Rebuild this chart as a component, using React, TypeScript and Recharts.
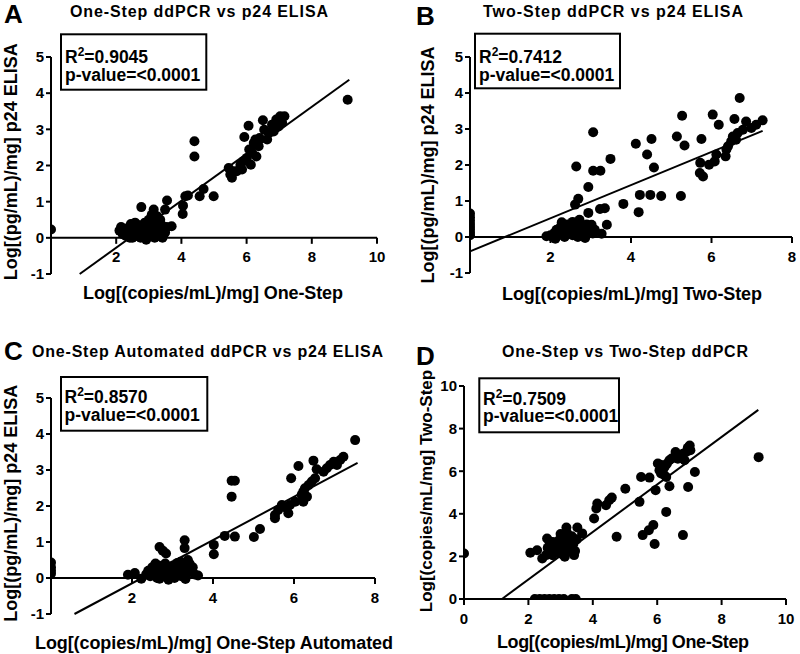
import React from 'react';
import { ScatterChart, Scatter, XAxis, YAxis, ReferenceLine } from 'recharts';

const FONT = '"Liberation Sans", Arial, Helvetica, sans-serif';

// ---------- DATA ----------
// A: One-Step ddPCR (x) vs p24 ELISA (y)
const oneStepVsP24: number[][] = [
  [0, 0.23],
  [2.1, 0.2], [2.2, 0.1], [2.25, 0.25], [2.3, 0.05], [2.35, 0.15], [2.4, 0.3], [2.42, 0.0], [2.5, 0.2], [2.55, 0.1],
  [2.6, 0.28], [2.62, 0.05], [2.68, 0.15], [2.7, 0.35], [2.72, 0.22], [2.78, 0.08], [2.8, 0.3], [2.85, 0.15], [2.88, 0.42],
  [2.9, 0.0], [2.92, -0.05], [2.95, 0.25], [3.0, 0.12], [3.02, 0.35], [3.05, 0.05], [3.08, 0.2], [3.1, 0.45], [3.12, 0.3],
  [3.15, 0.1], [3.18, 0.0], [3.2, 0.22], [3.22, 0.38], [3.25, 0.15], [3.28, 0.05], [3.3, 0.28], [3.32, 0.45], [3.35, 0.12],
  [3.38, 0.2], [3.4, 0.35], [3.42, 0.0], [3.45, 0.25], [3.5, 0.15], [3.55, 0.3], [3.7, 0.32], [2.15, 0.3], [2.45, 0.38],
  [2.58, 0.42], [2.75, 0.0], [3.0, 0.5], [3.2, 0.55], [3.25, 0.6], [3.35, 0.5], [2.5, 0.0], [2.65, 0.3], [2.95, 0.1], [3.45, 0.08],
  [2.77, 0.85], [3.15, 0.78], [3.09, 0.64], [3.56, 1.03], [3.5, 0.78], [4.05, 0.89], [4.04, 0.66], [4.12, 1.15], [4.2, 1.17],
  [4.4, 2.67], [4.4, 2.25], [4.56, 1.15], [4.68, 1.35], [4.99, 1.15],
  [5.45, 1.93], [5.5, 1.75], [5.55, 1.66], [5.7, 1.84], [5.81, 2.02], [5.91, 2.12], [6.01, 2.21], [6.13, 2.02], [6.08, 2.44],
  [6.22, 2.62], [6.27, 2.72], [6.3, 2.25], [5.93, 2.79], [6.06, 3.1], [6.4, 2.76], [6.5, 3.25], [6.54, 2.99], [6.68, 2.9],
  [6.78, 3.13], [6.83, 2.94], [6.91, 3.27], [6.98, 3.08], [7.03, 3.36], [7.16, 3.36], [7.09, 3.18], [6.63, 2.72], [6.37, 2.53],
  [6.17, 2.35], [5.86, 1.89], [5.6, 1.84],
  [9.1, 3.82],
];
const fitA = [{ x: 0.88, y: -1 }, { x: 9.15, y: 4.37 }];

// B: Two-Step ddPCR (x) vs p24 ELISA (y)
const twoStepVsP24: number[][] = [
  [0, 0.05], [0, 0.12], [0, 0.2], [0, 0.28], [0, 0.36], [0, 0.45], [0, 0.55], [0, 0.65],
  [1.9, 0.02], [2.0, 0.05], [2.05, 0.0], [2.1, 0.12], [2.15, 0.2], [2.2, 0.05], [2.25, 0.28], [2.28, 0.41], [2.3, 0.15],
  [2.35, 0.0], [2.4, 0.22], [2.45, 0.1], [2.5, 0.3], [2.55, 0.05], [2.58, 0.18], [2.6, 0.38], [2.65, 0.25], [2.7, 0.12],
  [2.72, 0.48], [2.75, 0.3], [2.8, 0.2], [2.82, 0.05], [2.86, -0.03], [2.9, 0.35], [2.95, 0.15], [3.0, 0.25], [3.02, 0.34],
  [3.05, 0.1], [3.1, 0.2], [2.12, -0.05], [2.42, 0.35], [2.68, 0.0], [3.27, 0.09], [3.4, 0.34], [2.55, 0.42],
  [3.06, 2.91], [2.64, 1.96], [3.06, 1.84], [3.24, 1.84], [3.49, 2.17], [2.94, 1.39], [2.69, 1.06], [2.61, 0.9], [2.94, 0.67],
  [3.23, 0.78], [3.35, 0.8], [3.81, 0.92], [4.12, 2.59], [4.19, 0.69], [4.22, 1.17], [4.4, 2.29], [4.51, 2.72], [4.48, 1.17],
  [4.57, 1.93], [4.75, 1.14], [5.14, 2.79], [5.27, 3.37], [5.33, 2.54], [5.24, 1.14],
  [6.7, 3.86], [6.03, 3.4], [6.18, 3.12], [6.57, 3.28], [6.86, 3.21], [7.27, 3.24], [7.11, 3.12], [6.99, 3.03], [6.78, 2.98],
  [6.65, 2.89], [6.53, 2.79], [6.49, 2.66], [6.41, 2.52], [6.37, 2.43], [6.35, 2.24], [6.61, 2.7], [5.75, 2.72],
  [5.72, 2.06], [5.94, 2.01], [6.08, 2.1], [6.12, 2.29], [5.71, 1.78], [5.79, 1.68],
];
const fitB = [{ x: 0, y: -0.4 }, { x: 7.27, y: 2.95 }];

// C: One-Step Automated ddPCR (x) vs p24 ELISA (y)
const automatedVsP24: number[][] = [
  [0, 0.43], [0, 0.3], [0, 0.2], [0, 0.12],
  [1.9, 0.09], [2.07, 0.14], [2.23, -0.02],
  [2.35, 0.1], [2.4, 0.2], [2.45, 0.05], [2.5, 0.3], [2.55, 0.15], [2.6, 0.25], [2.62, 0.0], [2.65, 0.35], [2.7, 0.1],
  [2.72, 0.28], [2.75, 0.18], [2.8, 0.05], [2.82, 0.4], [2.85, 0.22], [2.9, -0.05], [2.92, 0.3], [2.95, 0.12], [3.0, 0.2],
  [3.02, 0.35], [3.05, 0.0], [3.08, 0.25], [3.1, 0.1], [3.15, 0.3], [3.18, 0.15], [3.2, 0.45], [3.22, 0.05], [3.25, 0.22],
  [3.3, 0.35], [3.32, -0.03], [3.35, 0.12], [3.4, 0.25], [3.42, 0.4], [3.45, 0.18], [3.5, 0.3], [3.55, 0.1], [3.38, 0.5],
  [2.58, 0.4], [2.68, -0.02], [2.88, 0.15], [3.12, 0.42], [2.98, 0.05], [3.28, 0.18], [3.63, 0.07],
  [2.68, 0.86], [2.76, 0.76], [2.84, 0.68], [3.3, 1.05], [3.3, 0.83], [4.02, 0.92], [4.02, 0.66], [4.29, 1.17], [4.54, 1.15],
  [4.46, 2.7], [4.54, 2.7], [4.46, 2.26], [5.01, 1.14], [5.16, 1.36],
  [5.53, 1.75], [5.53, 1.66], [5.61, 1.89], [5.7, 2.03], [5.86, 1.8], [5.82, 1.94], [5.9, 2.03], [6.03, 2.12], [6.23, 2.12],
  [6.32, 2.26], [6.19, 2.31], [6.23, 2.4], [6.27, 2.49], [6.36, 2.58], [6.44, 2.68], [6.52, 2.77], [5.93, 2.77], [6.11, 3.11],
  [6.56, 3.02], [6.48, 3.26], [6.73, 2.95], [6.81, 3.05], [6.89, 3.14], [6.98, 3.23], [7.06, 3.14], [7.14, 3.28], [7.22, 3.37],
  [7.51, 3.83],
];
const fitC = [{ x: 0.58, y: -1 }, { x: 7.57, y: 3.2 }];

// D: One-Step (x) vs Two-Step (y)
const oneStepVsTwoStep: number[][] = [
  [0, 2.14],
  [2.2, 0], [2.35, 0], [2.5, 0], [2.65, 0], [2.8, 0], [2.95, 0], [3.1, 0], [3.35, 0], [3.47, 0],
  [2.06, 2.17], [2.27, 2.29], [2.43, 1.9], [2.55, 2.06], [2.58, 2.84], [2.76, 2.68], [2.95, 2.76], [3.18, 3.36], [3.52, 3.36],
  [3.67, 3.08], [3.42, 2.06], [3.13, 1.98],
  [2.6, 2.4], [2.7, 2.5], [2.8, 2.3], [2.85, 2.6], [2.9, 2.2], [2.95, 2.45], [3.0, 2.65], [3.05, 2.3], [3.1, 2.9], [3.15, 2.55],
  [3.2, 2.2], [3.25, 2.75], [3.3, 2.4], [3.35, 2.95], [3.4, 2.6], [3.45, 2.25], [3.5, 2.8], [3.0, 3.05], [3.2, 3.1],
  [2.75, 2.05], [3.05, 2.1], [2.65, 2.7],
  [4.04, 3.78], [4.11, 4.25], [4.14, 4.48], [4.41, 4.4], [4.51, 4.64], [4.59, 4.76], [4.74, 2.92], [5.01, 5.18], [5.45, 4.56],
  [5.5, 5.73], [5.76, 5.7], [5.55, 3.0], [5.74, 3.23], [5.88, 3.47], [5.92, 2.58], [5.95, 5.11], [6.02, 6.36], [6.07, 6.04],
  [6.12, 5.89], [6.23, 6.2], [6.28, 5.73], [6.28, 4.09], [6.38, 5.29], [6.38, 6.51], [6.57, 6.9], [6.64, 6.59], [6.8, 6.82],
  [6.85, 6.51], [7.01, 7.21], [7.03, 6.98], [6.96, 5.26], [6.8, 3.0], [7.17, 5.96],
  [6.15, 6.0], [6.2, 5.85], [6.1, 6.3], [6.3, 6.35], [6.45, 6.6], [6.7, 6.75], [6.9, 6.9], [6.95, 7.1],
  [9.15, 6.66],
];
const fitD = [{ x: 1.18, y: 0 }, { x: 9.14, y: 8.88 }];

const xTicksA = [2, 4, 6, 8, 10];
const xTicksB = [2, 4, 6, 8];
const xTicksC = [2, 4, 6, 8];
const xTicksD = [0, 2, 4, 6, 8, 10];
const yTicksElisa = [-1, 0, 1, 2, 3, 4, 5];
const yTicksD = [0, 2, 4, 6, 8, 10];

const toPts = (arr: number[][]) => arr.map(([x, y]) => ({ x, y }));

// ---------- COMPONENTS ----------
const Dot = (p: any) => <circle cx={p.cx} cy={p.cy} r={5} fill="#000" />;

const ShiftedTick = (p: any) => {
  const ay = p.y - p.shift;
  return (
    <g>
      <line x1={p.x} x2={p.x} y1={ay} y2={ay + 6} stroke="#000" strokeWidth={2} />
      <text x={p.x} y={ay + 24.5} textAnchor="middle" fontSize={15} fontWeight="bold" fill="#000" fontFamily={FONT}>
        {p.payload.value}
      </text>
    </g>
  );
};

type PanelProps = {
  left: number; top: number; width: number; height: number;
  margin: { top: number; right: number; bottom: number; left: number };
  yAxisWidth: number; xAxisHeight: number;
  data: number[][]; fit: { x: number; y: number }[];
  xDomain: [number, number]; yDomain: [number, number];
  xTicks: number[]; yTicks: number[]; axisAtZero: boolean;
};

function Panel(props: PanelProps) {
  const { left, top, width, height, margin, yAxisWidth, xAxisHeight, data, fit, xDomain, yDomain, xTicks, yTicks, axisAtZero } = props;
  const plotH = height - margin.top - margin.bottom - xAxisHeight;
  const shift = (plotH * (0 - yDomain[0])) / (yDomain[1] - yDomain[0]);
  const tickStyle = { fill: '#000', fontSize: 15, fontWeight: 'bold', fontFamily: FONT } as any;
  return (
    <div style={{ position: 'absolute', left, top, width, height }}>
      <ScatterChart width={width} height={height} margin={margin}>
        {axisAtZero ? (
          <XAxis
            type="number" dataKey="x" domain={xDomain} ticks={xTicks} interval={0}
            height={xAxisHeight} axisLine={false} tickLine={false} tickSize={0} tickMargin={0}
            allowDataOverflow
            tick={(tp: any) => <ShiftedTick {...tp} shift={shift} />}
          />
        ) : (
          <XAxis
            type="number" dataKey="x" domain={xDomain} ticks={xTicks} interval={0}
            height={xAxisHeight} axisLine={{ stroke: '#000', strokeWidth: 2 }}
            tickLine={{ stroke: '#000', strokeWidth: 2 }} tickSize={6} tickMargin={8}
            allowDataOverflow tick={tickStyle}
          />
        )}
        <YAxis
          type="number" dataKey="y" domain={yDomain} ticks={yTicks} interval={0} width={yAxisWidth}
          axisLine={{ stroke: '#000', strokeWidth: 2 }} tickLine={{ stroke: '#000', strokeWidth: 2 }}
          tickSize={5} tickMargin={2} allowDataOverflow tick={tickStyle}
        />
        {axisAtZero && <ReferenceLine y={0} stroke="#000" strokeWidth={2} />}
        <ReferenceLine segment={fit} stroke="#000" strokeWidth={2} ifOverflow="visible" />
        <Scatter data={toPts(data)} isAnimationActive={false} shape={Dot} />
      </ScatterChart>
    </div>
  );
}

const txt = { fontFamily: FONT, fontWeight: 'bold' as const, fill: '#000' };

function StatBox({ x, y, w, h, tx, b1, b2, r2 }: any) {
  return (
    <g>
      <rect x={x} y={y} width={w} height={h} fill="#fff" stroke="#000" strokeWidth={2} />
      <text x={tx} y={b1} fontSize={17.5} {...txt}>
        R<tspan dy={-7} fontSize={12}>2</tspan><tspan dy={7}>={r2}</tspan>
      </text>
      <text x={tx} y={b2} fontSize={17.5} {...txt}>p-value=&lt;0.0001</text>
    </g>
  );
}

export default function App() {
  return (
    <div style={{ position: 'absolute', left: 0, top: 0, width: 800, height: 654, background: '#fff', overflow: 'hidden' }}>
      <Panel left={0} top={0} width={400} height={320} margin={{ top: 57, right: 23, bottom: 26, left: 0 }}
        yAxisWidth={51} xAxisHeight={20} data={oneStepVsP24} fit={fitA} xDomain={[0, 10]} yDomain={[-1, 5]}
        xTicks={xTicksA} yTicks={yTicksElisa} axisAtZero />
      <Panel left={400} top={0} width={400} height={320} margin={{ top: 57, right: 8, bottom: 27, left: 0 }}
        yAxisWidth={70} xAxisHeight={20} data={twoStepVsP24} fit={fitB} xDomain={[0, 8]} yDomain={[-1, 5]}
        xTicks={xTicksB} yTicks={yTicksElisa} axisAtZero />
      <Panel left={0} top={320} width={400} height={334} margin={{ top: 78, right: 25, bottom: 20, left: 0 }}
        yAxisWidth={51} xAxisHeight={20} data={automatedVsP24} fit={fitC} xDomain={[0, 8]} yDomain={[-1, 5]}
        xTicks={xTicksC} yTicks={yTicksElisa} axisAtZero />
      <Panel left={400} top={320} width={400} height={334} margin={{ top: 66, right: 14, bottom: 25, left: 0 }}
        yAxisWidth={64} xAxisHeight={30} data={oneStepVsTwoStep} fit={fitD} xDomain={[0, 10]} yDomain={[0, 10]}
        xTicks={xTicksD} yTicks={yTicksD} axisAtZero={false} />

      <svg width={800} height={654} style={{ position: 'absolute', left: 0, top: 0, pointerEvents: 'none' }}>
        {/* panel letters */}
        <text x={4} y={23} fontSize={26} {...txt}>A</text>
        <text x={416} y={25} fontSize={26} {...txt}>B</text>
        <text x={4} y={360} fontSize={26} {...txt}>C</text>
        <text x={416} y={365} fontSize={26} {...txt}>D</text>

        {/* titles */}
        <text x={70} y={16.5} fontSize={16} textLength={258} lengthAdjust="spacing" {...txt}>One-Step ddPCR vs p24 ELISA</text>
        <text x={483} y={16.5} fontSize={16} textLength={260} lengthAdjust="spacing" {...txt}>Two-Step ddPCR vs p24 ELISA</text>
        <text x={32} y={356.5} fontSize={16} textLength={351} lengthAdjust="spacing" {...txt}>One-Step Automated ddPCR vs p24 ELISA</text>
        <text x={502} y={356.5} fontSize={16} textLength={246} lengthAdjust="spacing" {...txt}>One-Step vs Two-Step ddPCR</text>

        {/* x-axis titles */}
        <text x={83} y={299} fontSize={18} textLength={260} lengthAdjust="spacing" {...txt}>Log[(copies/mL)/mg] One-Step</text>
        <text x={502} y={300} fontSize={18} textLength={260} lengthAdjust="spacing" {...txt}>Log[(copies/mL)/mg] Two-Step</text>
        <text x={35} y={649} fontSize={18} textLength={358} lengthAdjust="spacing" {...txt}>Log[(copies/mL)/mg] One-Step Automated</text>
        <text x={497} y={648} fontSize={18} textLength={252} lengthAdjust="spacing" {...txt}>Log[(copies/mL)/mg] One-Step</text>

        {/* y-axis titles */}
        <text transform="translate(16.6,161.7) rotate(-90)" textAnchor="middle" fontSize={18} {...txt}>Log[(pg/mL)/mg] p24 ELISA</text>
        <text transform="translate(433.5,165) rotate(-90)" textAnchor="middle" fontSize={18} {...txt}>Log[(pg/mL)/mg] p24 ELISA</text>
        <text transform="translate(16.6,503.3) rotate(-90)" textAnchor="middle" fontSize={18} {...txt}>Log[(pg/mL)/mg] p24 ELISA</text>
        <text transform="translate(432,491) rotate(-90)" textAnchor="middle" fontSize={17} {...txt}>Log[(copies/mL/mg] Two-Step</text>

        {/* stat boxes */}
        <StatBox x={61} y={34.3} w={145.3} h={55.4} tx={65} b1={63} b2={81} r2="0.9045" />
        <StatBox x={475} y={33.7} w={145} h={54.6} tx={479} b1={63} b2={80.5} r2="0.7412" />
        <StatBox x={61} y={377} w={146.3} h={53.7} tx={64.5} b1={403.3} b2={420.7} r2="0.8570" />
        <StatBox x={479.3} y={378.3} w={139.7} h={54} tx={483} b1={405} b2={421.7} r2="0.7509" />
      </svg>
    </div>
  );
}
